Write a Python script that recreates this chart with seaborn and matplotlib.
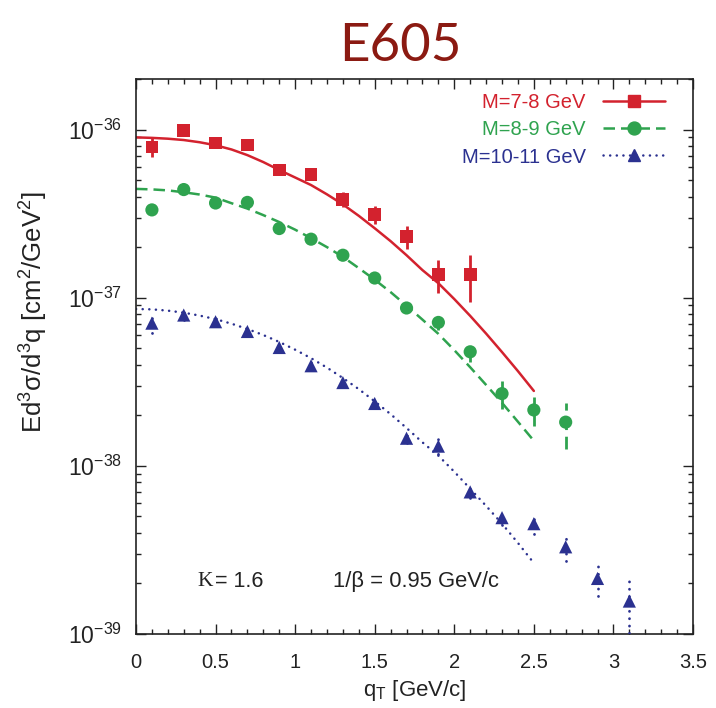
import numpy as np
import pandas as pd
import matplotlib
matplotlib.use("Agg")
import matplotlib.pyplot as plt
import seaborn as sns
from matplotlib.lines import Line2D
from matplotlib.ticker import LogLocator, MultipleLocator, FixedLocator, FuncFormatter, NullFormatter

# ---------------- data ----------------
qt_curve = [0.0, 0.1, 0.2, 0.3, 0.4, 0.5, 0.6, 0.7, 0.8, 0.9, 1.0, 1.1, 1.2,
            1.3, 1.4, 1.5, 1.6, 1.7, 1.8, 1.9, 2.0, 2.1, 2.2, 2.3, 2.4, 2.5]
red_curve = [8.99e-37, 8.93e-37, 8.83e-37, 8.67e-37, 8.41e-37, 8.07e-37, 7.62e-37,
             7.05e-37, 6.41e-37, 5.75e-37, 5.19e-37, 4.68e-37, 4.12e-37, 3.59e-37,
             3.07e-37, 2.59e-37, 2.17e-37, 1.79e-37, 1.46e-37, 1.22e-37, 9.82e-38,
             7.80e-38, 6.12e-38, 4.75e-38, 3.66e-38, 2.79e-38]
green_curve = [4.44e-37, 4.41e-37, 4.35e-37, 4.24e-37, 4.11e-37, 3.94e-37, 3.65e-37,
               3.39e-37, 3.10e-37, 2.82e-37, 2.54e-37, 2.26e-37, 2.00e-37, 1.75e-37,
               1.50e-37, 1.28e-37, 1.08e-37, 8.97e-38, 7.41e-38, 6.10e-38, 4.88e-38,
               3.86e-38, 3.03e-38, 2.37e-38, 1.83e-38, 1.41e-38]
blue_curve = [8.57e-38, 8.53e-38, 8.38e-38, 8.15e-38, 7.83e-38, 7.46e-38, 7.01e-38,
              6.52e-38, 6.00e-38, 5.46e-38, 4.91e-38, 4.37e-38, 3.84e-38, 3.33e-38,
              2.86e-38, 2.42e-38, 2.03e-38, 1.68e-38, 1.38e-38, 1.15e-38, 9.23e-39,
              7.31e-39, 5.78e-39, 4.53e-39, 3.48e-39, 2.64e-39]

qt_red = [0.1, 0.3, 0.5, 0.7, 0.9, 1.1, 1.3, 1.5, 1.7, 1.9, 2.1]
red_y = [7.89e-37, 9.86e-37, 8.33e-37, 8.11e-37, 5.75e-37, 5.40e-37, 3.86e-37,
         3.12e-37, 2.31e-37, 1.37e-37, 1.37e-37]
red_err = [1.0e-37, 0.6e-37, 0.4e-37, 0.4e-37, 0.3e-37, 0.3e-37, 0.38e-37,
           0.39e-37, 0.37e-37, 0.30e-37, 0.43e-37]

qt_green = [0.1, 0.3, 0.5, 0.7, 0.9, 1.1, 1.3, 1.5, 1.7, 1.9, 2.1, 2.3, 2.5, 2.7]
green_y = [3.33e-37, 4.40e-37, 3.66e-37, 3.69e-37, 2.58e-37, 2.23e-37, 1.79e-37,
           1.31e-37, 8.69e-38, 7.13e-38, 4.77e-38, 2.69e-38, 2.15e-38, 1.82e-38]
green_err = [0.15e-37, 0.15e-37, 0.15e-37, 0.15e-37, 0.12e-37, 0.10e-37, 0.08e-37,
             0.07e-37, 0.05e-37, 0.7e-38, 0.6e-38, 0.52e-38, 0.43e-38, 0.56e-38]

qt_blue = [0.1, 0.3, 0.5, 0.7, 0.9, 1.1, 1.3, 1.5, 1.7, 1.9, 2.1, 2.3, 2.5, 2.7, 2.9, 3.1]
blue_y = [7.06e-38, 7.89e-38, 7.20e-38, 6.30e-38, 5.06e-38, 3.94e-38, 3.13e-38,
          2.35e-38, 1.46e-38, 1.31e-38, 7.0e-39, 4.92e-39, 4.53e-39, 3.30e-39,
          2.14e-39, 1.57e-39]
blue_err = [0.9e-38, 0.5e-38, 0.4e-38, 0.3e-38, 0.25e-38, 0.2e-38, 0.15e-38,
            0.12e-38, 0.1e-38, 0.13e-38, 0.6e-39, 0.45e-39, 0.59e-39, 0.59e-39,
            0.46e-39, 0.55e-39]

series_labels = ["M=7-8 GeV", "M=8-9 GeV", "M=10-11 GeV"]
x_ticks = [0, 0.5, 1, 1.5, 2, 2.5, 3, 3.5]
y_ticks = [1e-39, 1e-38, 1e-37, 1e-36]

# ---------------- style ----------------
sns.set_theme(style="ticks")
plt.rcParams["font.family"] = ["Liberation Sans", "DejaVu Sans"]
plt.rcParams["mathtext.fontset"] = "custom"
plt.rcParams["mathtext.rm"] = "Liberation Sans"
plt.rcParams["mathtext.it"] = "Liberation Sans:italic"
plt.rcParams["mathtext.bf"] = "Liberation Sans:bold"

RED = "#d3222e"
GREEN = "#2fa34f"
BLUE = "#2b3190"
INK = "#222222"
GREEN_DASH = (4.6, 2.4)
BLUE_DOT = (0.05, 2.6)

fig = plt.figure(figsize=(7.16, 7.08), dpi=100)
ax = fig.add_axes([0.18994, 0.10452, 0.77793, 0.78390])

curves = pd.DataFrame({"qt": qt_curve, "red": red_curve, "green": green_curve, "blue": blue_curve})
dash_of = {"red": None, "green": GREEN_DASH, "blue": BLUE_DOT}
color_of = {"red": RED, "green": GREEN, "blue": BLUE}

LW = 1.8
for key in ["red", "green", "blue"]:
    sns.lineplot(data=curves, x="qt", y=key, ax=ax, color=color_of[key],
                 linewidth=LW, sort=True, estimator=None)
    ln = ax.lines[-1]
    if dash_of[key] is not None:
        ln.set_dashes(dash_of[key])
    if key == "blue":
        ln.set_dash_capstyle("round")

# error bars
def draw_err(x, y, e, color, dash):
    cont = ax.errorbar(x, y, yerr=e, fmt="none", ecolor=color, elinewidth=2.0, capsize=0, zorder=3)
    lc = cont[2][0]
    if dash is not None:
        lc.set_linestyle((0, dash))
        if dash[0] < 0.5:
            lc.set_capstyle("round")

draw_err(qt_red, red_y, red_err, RED, None)
draw_err(qt_green, green_y, green_err, GREEN, GREEN_DASH)
draw_err(qt_blue, blue_y, blue_err, BLUE, BLUE_DOT)

pts_red = pd.DataFrame({"qt": qt_red, "y": red_y})
pts_green = pd.DataFrame({"qt": qt_green, "y": green_y})
pts_blue = pd.DataFrame({"qt": qt_blue, "y": blue_y})
sns.scatterplot(data=pts_red, x="qt", y="y", ax=ax, marker="s", s=85, color=RED, edgecolor="none", zorder=4)
sns.scatterplot(data=pts_green, x="qt", y="y", ax=ax, marker="o", s=90, color=GREEN, edgecolor="none", zorder=4)
sns.scatterplot(data=pts_blue, x="qt", y="y", ax=ax, marker="^", s=90, color=BLUE, edgecolor="none", zorder=4)

# axes
ax.set_yscale("log")
ax.set_xlim(0, 3.5)
ax.set_ylim(1e-39, 2.0e-36)
ax.xaxis.set_major_locator(FixedLocator(x_ticks))
ax.xaxis.set_minor_locator(MultipleLocator(0.1))
ax.xaxis.set_major_formatter(FuncFormatter(lambda v, p: f"{v:g}"))
ax.yaxis.set_major_locator(FixedLocator(y_ticks))
ax.yaxis.set_minor_locator(LogLocator(base=10, subs=np.arange(2, 10)))
ax.yaxis.set_minor_formatter(NullFormatter())
ax.yaxis.set_major_formatter(FuncFormatter(lambda v, p: r"$10^{%d}$" % int(round(np.log10(v)))))

ax.tick_params(which="both", direction="in", top=True, right=True, colors=INK, labelcolor=INK)
ax.tick_params(which="major", length=7, width=1.0)
ax.tick_params(which="minor", length=3.5, width=1.0)
ax.tick_params(axis="x", which="major", pad=14, labelsize=14.5)
ax.tick_params(axis="y", which="major", pad=10, labelsize=16.5)
for sp in ax.spines.values():
    sp.set_linewidth(1.2)
    sp.set_color(INK)

ax.set_xlabel(r"q$_\mathrm{T}$ [GeV/c]", fontsize=16, color=INK, labelpad=4)
ax.set_ylabel(r"Ed$^3$σ/d$^3$q [cm$^2$/GeV$^2$]", fontsize=18.5, color=INK)
ax.yaxis.set_label_coords(-0.155, 0.58)

# legend
handles = [
    Line2D([], [], color=RED, lw=LW, marker="s", markersize=9.3),
    Line2D([], [], color=GREEN, lw=LW, marker="o", markersize=9.3, dashes=GREEN_DASH),
    Line2D([], [], color=BLUE, lw=LW, marker="^", markersize=9.3, dashes=BLUE_DOT, dash_capstyle="round"),
]
leg = ax.legend(handles=handles, labels=series_labels, loc="upper right",
                bbox_to_anchor=(0.95, 0.974), markerfirst=False, frameon=False,
                fontsize=14.5, handlelength=3.1, handletextpad=0.85, labelspacing=0.40,
                borderpad=0.0, borderaxespad=0.0)
for txt, c in zip(leg.get_texts(), [RED, GREEN, BLUE]):
    txt.set_color(c)

# annotations
ax.text(0.1095, 0.095, "K", transform=ax.transAxes, fontsize=15.5, va="center", ha="left",
        family=["Liberation Serif", "DejaVu Serif"], color=INK)
ax.text(0.141, 0.095, "= 1.6", transform=ax.transAxes, fontsize=15.5, va="center", ha="left",
        color=INK)
ax.text(0.354, 0.095, "1/β = 0.95 GeV/c", transform=ax.transAxes, fontsize=15.8, va="center",
        ha="left", color=INK)

# title
fig.text(0.559, 0.934, "E605", fontsize=38, color="#8b1a12", ha="center", va="center",
         family=["Lato", "DejaVu Sans"])

fig.savefig("out.png", dpi=100)
